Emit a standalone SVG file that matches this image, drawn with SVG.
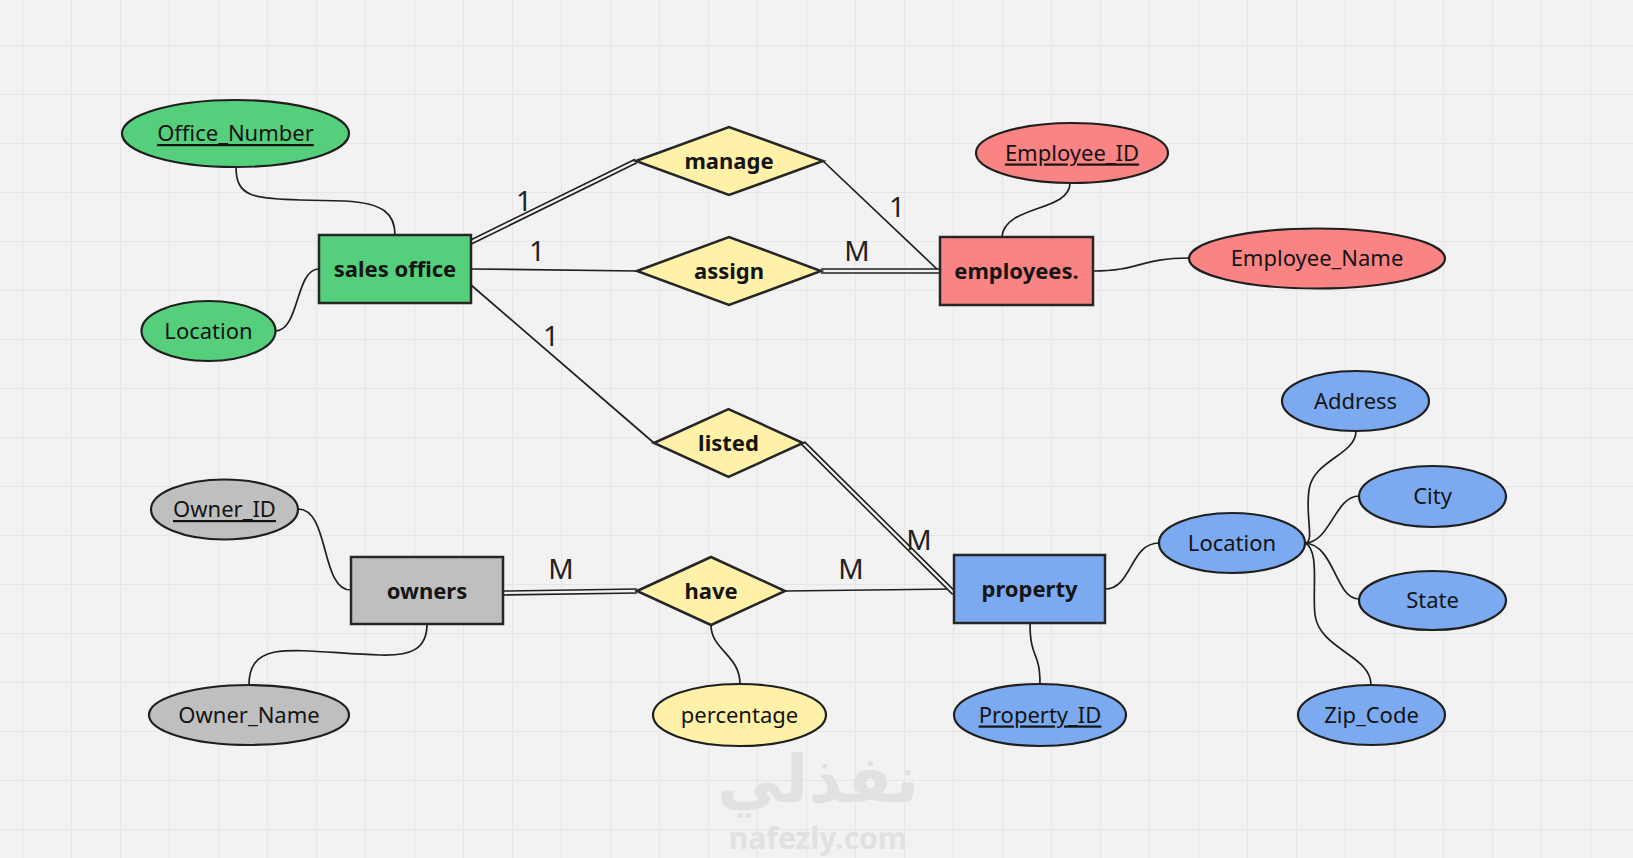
<svg xmlns="http://www.w3.org/2000/svg" width="1633" height="858" viewBox="0 0 1633 858">
<defs>
<pattern id="grid" x="22" y="45" width="49" height="49" patternUnits="userSpaceOnUse">
<path d="M0,0 H49 M0,0 V49" fill="none" stroke="#e6e6e6" stroke-width="2"/>
</pattern>
<style>
.ent{stroke:#262626;stroke-width:2.5}
.attr{stroke:#1f1f1f;stroke-width:2.2}
.green{fill:#56cf7c}.red{fill:#fa8383}.gray{fill:#bfbfbf}.yellow{fill:#fff1a8}.blue{fill:#7caaf0}
.t{font-family:"Noto Sans","Open Sans",sans-serif;font-size:22px;fill:#141414;text-anchor:middle;dominant-baseline:central;transform:translateY(-1.5px)}
.b{font-weight:bold}
.u{text-decoration:underline}
.card{font-family:"Noto Sans","Open Sans",sans-serif;font-size:28px;fill:#222;text-anchor:middle;dominant-baseline:central}
.line{fill:none;stroke:#1f1f1f;stroke-width:1.7}
.dbl{fill:none;stroke:#1f1f1f;stroke-width:5.5}
.dblin{fill:none;stroke:#f2f2f2;stroke-width:2.3}
</style>
</defs>
<rect width="1633" height="858" fill="#f2f2f2"/>
<rect width="1633" height="858" fill="url(#grid)"/>

<g id="watermark" fill="#e1e1e1" text-anchor="middle">
<text x="818" y="802" font-family="DejaVu Sans, sans-serif" font-weight="bold" font-size="66">نفذلي</text>
<text x="818" y="849" font-family="Noto Sans, sans-serif" font-weight="bold" font-size="30">nafezly.com</text>
</g>

<g id="connectors">
<path class="line" d="M236,167 C236,196 252,199 300,200 L345,201 C385,203 395,215 395,235"/>
<path class="line" d="M275,331 C300,331 295,269 319,269"/>
<path class="line" d="M1070,183 C1070,212 1004,205 1002,237"/>
<path class="line" d="M1093,271 C1140,271 1140,258 1189,258"/>
<path class="line" d="M298,509 C330,509 320,590 351,590"/>
<path class="line" d="M427,624 C427,650 410,656 380,655 C340,654 300,648 275,652 C255,656 249,668 249,685"/>
<path class="line" d="M711,625 C711,650 740,655 740,684"/>
<path class="line" d="M1030,623 C1030,660 1040,650 1040,684"/>
<path class="line" d="M1105,589 C1132,589 1130,543 1159,543"/>
<path class="line" d="M1305,543 C1315,543 1305,515 1309,490 C1313,460 1356,455 1356,431"/>
<path class="line" d="M1305,543 C1330,543 1335,496 1359,496"/>
<path class="line" d="M1305,543 C1335,545 1335,599 1359,599"/>
<path class="line" d="M1305,543 C1320,550 1312,590 1315,615 C1320,650 1371,655 1371,685"/>

<path class="line" d="M471,269 L637,271"/>
<path class="line" d="M471,285 L654,443"/>
<path class="line" d="M823,161 L938,270"/>
<path class="line" d="M785,591 L954,589"/>

<path class="dbl" d="M471,242 L636,161"/>
<path class="dblin" d="M471,242 L636,161"/>
<path class="dbl" d="M821,271 L940,271"/>
<path class="dblin" d="M821,271 L940,271"/>
<path class="dbl" d="M803,443 L954,593"/>
<path class="dblin" d="M803,443 L954,593"/>
<path class="dbl" d="M503,593 L637,591"/>
<path class="dblin" d="M503,593 L637,591"/>

<text class="card" x="524" y="200">1</text>
<text class="card" x="537" y="250">1</text>
<text class="card" x="551" y="335">1</text>
<text class="card" x="897" y="206">1</text>
<text class="card" x="857" y="250">M</text>
<text class="card" x="561" y="568">M</text>
<text class="card" x="851" y="568">M</text>
<text class="card" x="919" y="539">M</text>
</g>

<g id="sales_office"><rect class="ent green" x="319" y="235" width="152" height="68"/><text class="t b" x="395" y="269">sales office</text></g>
<g id="office_number"><ellipse class="attr green" cx="235.5" cy="133.5" rx="113.5" ry="33.5"/><text class="t u" x="235.5" y="133.5">Office_Number</text></g>
<g id="office_location"><ellipse class="attr green" cx="208.5" cy="331" rx="67" ry="30"/><text class="t" x="208.5" y="331">Location</text></g>

<g id="manage"><polygon class="ent yellow" points="636,161 729,127 823,161 729,195"/><text class="t b" x="729" y="161">manage</text></g>
<g id="assign"><polygon class="ent yellow" points="637,271 729,237 821,271 729,305"/><text class="t b" x="729" y="271">assign</text></g>
<g id="listed"><polygon class="ent yellow" points="654,443 728.5,409 803,443 728.5,477"/><text class="t b" x="728.5" y="443">listed</text></g>
<g id="have"><polygon class="ent yellow" points="637,591 711,557 785,591 711,625"/><text class="t b" x="711" y="591">have</text></g>

<g id="employees"><rect class="ent red" x="940" y="237" width="153" height="68"/><text class="t b" x="1016.5" y="271">employees.</text></g>
<g id="employee_id"><ellipse class="attr red" cx="1072" cy="153" rx="96" ry="30"/><text class="t u" x="1072" y="153">Employee_ID </text></g>
<g id="employee_name"><ellipse class="attr red" cx="1317" cy="258.5" rx="128" ry="30"/><text class="t" x="1317" y="258.5">Employee_Name</text></g>

<g id="owners"><rect class="ent gray" x="351" y="557" width="152" height="67"/><text class="t b" x="427" y="591">owners</text></g>
<g id="owner_id"><ellipse class="attr gray" cx="224.5" cy="509.5" rx="73.5" ry="30"/><text class="t u" x="224.5" y="509.5">Owner_ID</text></g>
<g id="owner_name"><ellipse class="attr gray" cx="249" cy="715" rx="100" ry="30"/><text class="t" x="249" y="715">Owner_Name</text></g>

<g id="percentage"><ellipse class="attr yellow" cx="739.5" cy="715" rx="86.5" ry="31"/><text class="t" x="739.5" y="715">percentage</text></g>

<g id="property"><rect class="ent blue" x="954" y="555" width="151" height="68"/><text class="t b" x="1029.5" y="589">property</text></g>
<g id="property_id"><ellipse class="attr blue" cx="1040" cy="715" rx="86" ry="31"/><text class="t u" x="1040" y="715">Property_ID</text></g>
<g id="property_location"><ellipse class="attr blue" cx="1232" cy="543" rx="73" ry="30"/><text class="t" x="1232" y="543">Location</text></g>
<g id="address"><ellipse class="attr blue" cx="1355.5" cy="401" rx="73.5" ry="30"/><text class="t" x="1355.5" y="401">Address</text></g>
<g id="city"><ellipse class="attr blue" cx="1432.5" cy="496.5" rx="73.5" ry="30.5"/><text class="t" x="1432.5" y="496.5">City</text></g>
<g id="state"><ellipse class="attr blue" cx="1432.5" cy="600.5" rx="73.5" ry="29.5"/><text class="t" x="1432.5" y="600.5">State</text></g>
<g id="zip_code"><ellipse class="attr blue" cx="1371.5" cy="715" rx="73.5" ry="30"/><text class="t" x="1371.5" y="715">Zip_Code</text></g>
</svg>
